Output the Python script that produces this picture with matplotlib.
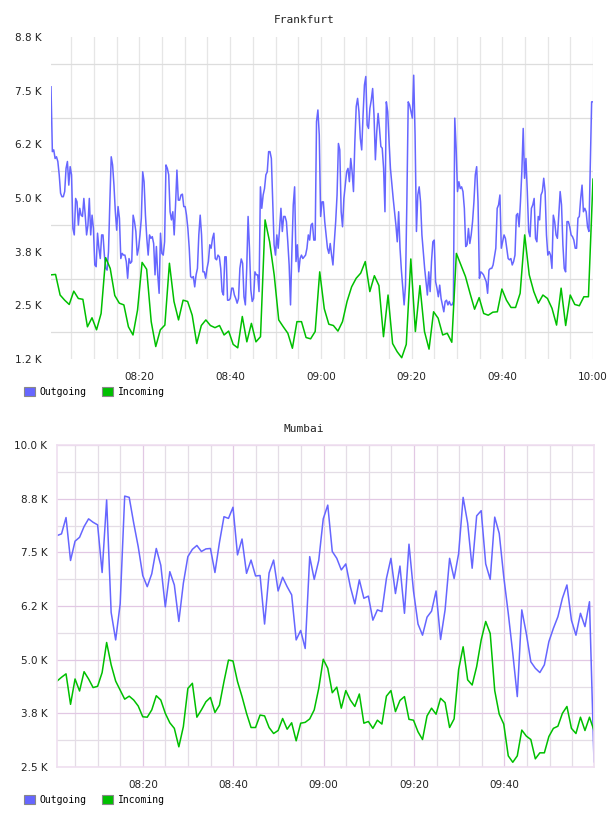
import numpy as np
import pandas as pd
import matplotlib
matplotlib.use("Agg")
import matplotlib.pyplot as plt
import matplotlib.dates as mdates
from matplotlib.patches import Patch
from matplotlib.ticker import FixedLocator, FuncFormatter

# Frankfurt, values in K (outgoing sampled ~20s, incoming ~1 min)
fra_out = [
    7.59, 6.08, 6.12, 5.92, 5.96, 5.85, 5.54, 5.11, 5.03, 5.03,
    5.15, 5.69, 5.85, 5.30, 5.73, 5.54, 4.29, 4.14, 4.99, 4.91,
    4.37, 4.76, 4.60, 4.57, 4.99, 4.60, 4.14, 4.37, 4.99, 4.14,
    4.60, 4.29, 3.44, 3.40, 4.18, 3.83, 3.59, 4.14, 4.14, 3.67,
    3.36, 3.32, 3.75, 4.91, 5.96, 5.77, 5.30, 4.68, 4.25, 4.80,
    4.53, 3.59, 3.71, 3.67, 3.67, 3.52, 3.13, 3.59, 3.48, 3.52,
    4.60, 4.45, 4.22, 3.67, 3.83, 4.14, 4.53, 5.61, 5.38, 4.60,
    4.06, 3.67, 4.14, 4.06, 4.10, 3.94, 3.21, 3.87, 3.21, 2.78,
    4.18, 3.71, 3.67, 3.98, 5.77, 5.69, 5.54, 4.68, 4.49, 4.68,
    4.14, 4.84, 5.65, 4.95, 4.95,
    5.07, 5.09, 4.80, 4.80, 4.60, 4.29, 3.83, 3.17, 3.14, 3.17,
    2.93, 3.21, 3.36, 4.14, 4.60, 4.14, 3.28, 3.28, 3.13, 3.36,
    3.52, 3.91, 3.83, 4.06, 4.18, 3.59, 3.56, 3.67, 3.63, 3.36,
    2.82, 2.74, 3.63, 3.63, 2.62, 2.62, 2.66, 2.90, 2.90, 2.74,
    2.66, 2.55, 2.66, 3.36, 3.58, 3.48, 2.70, 2.51, 3.36, 4.57,
    3.83, 2.86, 2.59, 2.66, 3.28, 3.21, 3.21, 2.82, 5.26, 4.76,
    5.07, 5.22, 5.54, 5.61, 6.08, 6.08, 5.92, 4.91, 3.91, 3.67,
    4.14, 3.83, 4.29, 4.76, 4.22, 4.57, 4.57, 4.45, 3.98, 3.44,
    2.51, 3.75, 4.84, 5.26, 3.52, 3.91, 3.28, 3.59, 3.67, 3.59,
    3.63, 3.67, 3.83, 4.14, 4.02, 4.37, 4.41, 4.02, 4.02, 6.78,
    7.05, 6.47,
    4.57, 4.91, 4.91, 4.45, 4.14, 3.83, 3.71, 3.94, 3.67, 3.44,
    3.98, 4.45, 5.07, 6.27, 6.12, 4.68, 4.33, 4.99, 5.30, 5.61,
    5.69, 5.38, 5.92, 5.61, 5.15, 6.31, 7.13, 7.32, 7.01, 6.39,
    6.12, 6.93, 7.63, 7.83, 6.70, 6.62, 7.09, 7.28, 7.55, 6.93,
    5.89, 6.54, 6.97, 6.62, 6.20, 6.16, 5.69, 4.68, 7.24, 7.01,
    6.31, 5.69, 5.34, 4.99, 4.68, 4.37, 3.98, 4.68, 3.83, 3.32,
    2.90, 2.51, 2.97, 4.91, 7.24, 7.17, 7.01, 6.86, 7.86, 6.47,
    4.22, 5.07, 5.26, 4.91, 4.14, 3.75, 3.36, 3.05, 2.74, 3.28,
    2.82, 3.52, 3.98, 4.02, 3.05, 2.90, 2.70, 2.97, 2.66, 2.51,
    2.35, 2.59, 2.62, 2.51, 2.59, 2.51, 2.51, 2.59, 6.86, 6.16,
    5.15, 5.38, 5.22, 5.26, 5.15, 4.76, 3.87, 3.91, 4.29, 3.94,
    4.14, 4.45, 4.91, 5.54, 5.73, 4.91, 3.13, 3.28, 3.25, 3.21,
    3.13, 3.05, 2.78, 3.32, 3.36, 3.36, 3.44, 3.63, 3.83, 4.76,
    4.84, 5.07, 3.83, 3.98, 4.14, 4.06, 3.83, 3.59, 3.56, 3.59,
    3.44, 3.52, 3.67, 4.60, 4.64, 4.33, 4.91, 5.61, 6.62, 5.46,
    5.92, 5.15, 4.22, 4.10, 4.76, 4.84, 4.99, 4.06, 3.98, 4.57,
    4.49, 5.07, 5.15, 5.46, 5.15, 4.14, 3.67, 3.75, 3.67, 3.36,
    4.60, 4.45, 4.14, 4.06, 4.60, 5.15, 4.84, 3.91, 3.36, 3.28,
    4.45, 4.45, 4.33, 4.14, 4.10, 4.02, 3.83, 3.83, 4.53, 4.57,
    4.99, 5.30, 4.68, 4.76, 4.68, 4.33, 4.22, 5.69, 7.24, 7.24,
]
fra_in = [
    3.21, 3.22, 2.74, 2.62, 2.52, 2.83, 2.66, 2.64, 2.00, 2.21,
    1.93, 2.31, 3.61, 3.36, 2.73, 2.55, 2.51, 2.00, 1.81, 2.39,
    3.50, 3.34, 2.12, 1.54, 1.93, 2.04, 3.48, 2.59, 2.16, 2.62,
    2.59, 2.27, 1.61, 2.03, 2.16, 2.03, 1.98, 2.03, 1.81, 1.90,
    1.59, 1.51, 2.24, 1.65, 2.08, 1.65, 1.77, 4.49, 3.98, 3.21,
    2.16, 2.00, 1.85, 1.50, 2.12, 2.12, 1.75, 1.72, 1.89, 3.28,
    2.42, 2.06, 2.03, 1.90, 2.12, 2.59, 2.93, 3.13, 3.25, 3.52,
    2.82, 3.19, 2.96, 1.77, 2.74, 1.61, 1.42, 1.28, 1.59, 3.58,
    1.89, 2.96, 1.89, 1.48, 2.35, 2.20, 1.81, 1.85, 1.64, 3.71,
    3.44, 3.17, 2.78, 2.41, 2.68, 2.31, 2.27, 2.34, 2.35, 2.88,
    2.62, 2.45, 2.45, 2.78, 4.14, 3.21, 2.82, 2.55, 2.74, 2.66,
    2.43, 2.04, 2.90, 2.03, 2.74, 2.52, 2.49, 2.70, 2.70, 5.44,
]

# Mumbai, values in K, one per minute
bom_out = [
    7.89, 7.93, 8.31, 7.31, 7.76, 7.85, 8.10, 8.28, 8.20, 8.14,
    7.03, 8.72, 6.10, 5.46, 6.30, 8.81, 8.78, 8.18, 7.63, 6.96,
    6.70, 7.00, 7.59, 7.20, 6.23, 7.05, 6.74, 5.89, 6.78, 7.40,
    7.57, 7.66, 7.52, 7.58, 7.59, 7.03, 7.73, 8.33, 8.29, 8.55,
    7.44, 7.81, 7.01, 7.32, 6.95, 6.96, 5.83, 7.02, 7.32, 6.60,
    6.92, 6.70, 6.51, 5.46, 5.68, 5.26, 7.40, 6.87, 7.31, 8.28,
    8.60, 7.52, 7.36, 7.09, 7.23, 6.70, 6.30, 6.86, 6.43, 6.48,
    5.92, 6.16, 6.12, 6.89, 7.36, 6.54, 7.18, 6.08, 7.69, 6.60,
    5.83, 5.57, 5.99, 6.13, 6.60, 5.47, 6.16, 7.36, 6.89, 7.47,
    8.78, 8.18, 7.13, 8.35, 8.47, 7.23, 6.87, 8.32, 7.94, 6.93,
    6.08, 5.15, 4.14, 6.16, 5.61, 4.95, 4.80, 4.70, 4.88, 5.42,
    5.73, 6.00, 6.43, 6.74, 5.92, 5.57, 6.08, 5.77, 6.35, 2.62,
]
bom_in = [
    4.50, 4.59, 4.67, 3.96, 4.55, 4.27, 4.72, 4.55, 4.35, 4.38,
    4.70, 5.40, 4.88, 4.50, 4.29, 4.08, 4.15, 4.06, 3.92, 3.67,
    3.66, 3.83, 4.16, 4.06, 3.75, 3.53, 3.40, 2.97, 3.44, 4.33,
    4.45, 3.66, 3.83, 4.02, 4.12, 3.77, 3.94, 4.49, 4.99, 4.97,
    4.49, 4.14, 3.75, 3.42, 3.42, 3.71, 3.69, 3.42, 3.28, 3.35,
    3.63, 3.38, 3.53, 3.11, 3.52, 3.54, 3.62, 3.83, 4.33, 5.01,
    4.80, 4.23, 4.36, 3.87, 4.28, 4.06, 3.91, 4.20, 3.52, 3.56,
    3.40, 3.59, 3.50, 4.15, 4.28, 3.79, 4.05, 4.14, 3.61, 3.59,
    3.32, 3.14, 3.69, 3.87, 3.73, 4.10, 4.00, 3.42, 3.62, 4.77,
    5.30, 4.53, 4.41, 4.84, 5.46, 5.89, 5.61, 4.28, 3.73, 3.50,
    2.76, 2.61, 2.76, 3.36, 3.22, 3.14, 2.69, 2.83, 2.83, 3.21,
    3.40, 3.45, 3.75, 3.91, 3.40, 3.28, 3.66, 3.35, 3.66, 3.35,
]

fra_ticks = [1.25, 2.5, 3.75, 5.0, 6.25, 7.5, 8.75]
bom_ticks = [2.5, 3.75, 5.0, 6.25, 7.5, 8.75, 10.0]

day = "2024-01-01 "
fra_t_out = pd.date_range(day + "08:00:30", day + "10:00:00", periods=len(fra_out))
fra_t_in = pd.date_range(day + "08:00:30", day + "10:00:00", periods=len(fra_in))
bom_t = pd.date_range(day + "08:01:00", day + "09:59:50", periods=len(bom_out))

BLUE = "#6666ff"
GREEN = "#00c000"
TXT = "#222222"

plt.rcParams["font.family"] = "DejaVu Sans"
fig = plt.figure(figsize=(6.08, 8.16), dpi=100)


def style_axis(ax, ticks, t0, t1):
    ax.set_xlim(pd.Timestamp(t0), pd.Timestamp(t1))
    ax.set_ylim(ticks[0], ticks[-1])
    ax.xaxis.set_major_locator(mdates.MinuteLocator(byminute=[0, 20, 40]))
    ax.xaxis.set_minor_locator(mdates.MinuteLocator(byminute=range(0, 60, 5)))
    ax.xaxis.set_major_formatter(mdates.DateFormatter("%H:%M"))
    ax.yaxis.set_major_locator(FixedLocator(ticks))
    mids = [(a + b) / 2 for a, b in zip(ticks[:-1], ticks[1:])]
    ax.yaxis.set_minor_locator(FixedLocator(mids))
    ax.yaxis.set_major_formatter(FuncFormatter(lambda v, p: f"{v:.1f} K"))
    ax.tick_params(which="both", length=0, labelsize=7.5, colors=TXT)
    ax.tick_params(axis="y", pad=7)
    ax.tick_params(axis="x", pad=9)
    ax.set_axisbelow(True)


# Frankfurt
ax1 = fig.add_axes([51 / 608, 1 - 359 / 816, 542 / 608, 322 / 816])
style_axis(ax1, fra_ticks, day + "08:00:30", day + "10:00:00")
for s in ax1.spines.values():
    s.set_visible(False)
ax1.grid(which="both", axis="x", color="#e6e6e6", lw=0.9)
ax1.grid(which="minor", axis="y", color="#dddddd", lw=0.9)
ax1.plot(fra_t_out, fra_out, color=BLUE, lw=1.1)
ax1.plot(fra_t_in, fra_in, color=GREEN, lw=1.1)
for lab in ax1.get_xticklabels():
    lab.set_clip_on(False)

# Mumbai
ax2 = fig.add_axes([57 / 608, 1 - 767 / 816, 537 / 608, 322 / 816])
style_axis(ax2, bom_ticks, day + "08:01:00", day + "09:59:50")
for s in ax2.spines.values():
    s.set_color("#efdff0")
    s.set_linewidth(1.2)
ax2.grid(which="major", color="#e2c8e4", lw=0.9)
ax2.grid(which="minor", color="#e4dde6", lw=0.9)
ax2.plot(bom_t, bom_out, color=BLUE, lw=1.1)
ax2.plot(bom_t, bom_in, color=GREEN, lw=1.1)

# titles
fig.text(0.5, 1 - 20 / 816, "Frankfurt", ha="center", va="center",
         family="DejaVu Sans Mono", fontsize=8, color=TXT)
fig.text(0.5, 1 - 429 / 816, "Mumbai", ha="center", va="center",
         family="DejaVu Sans Mono", fontsize=8, color=TXT)

# legends
handles = [Patch(facecolor=BLUE, edgecolor="#888888", lw=0.8),
           Patch(facecolor=GREEN, edgecolor="#888888", lw=0.8)]
for yc in (392, 800):
    fig.legend(handles, ["Outgoing", "Incoming"], loc="center left",
               bbox_to_anchor=(24 / 608, 1 - yc / 816), ncol=2, frameon=False,
               borderpad=0, borderaxespad=0, handlelength=1.1, handleheight=1.1,
               handletextpad=0.5, columnspacing=1.6,
               prop={"family": "DejaVu Sans Mono", "size": 7})

fig.savefig("out.png", dpi=100)
